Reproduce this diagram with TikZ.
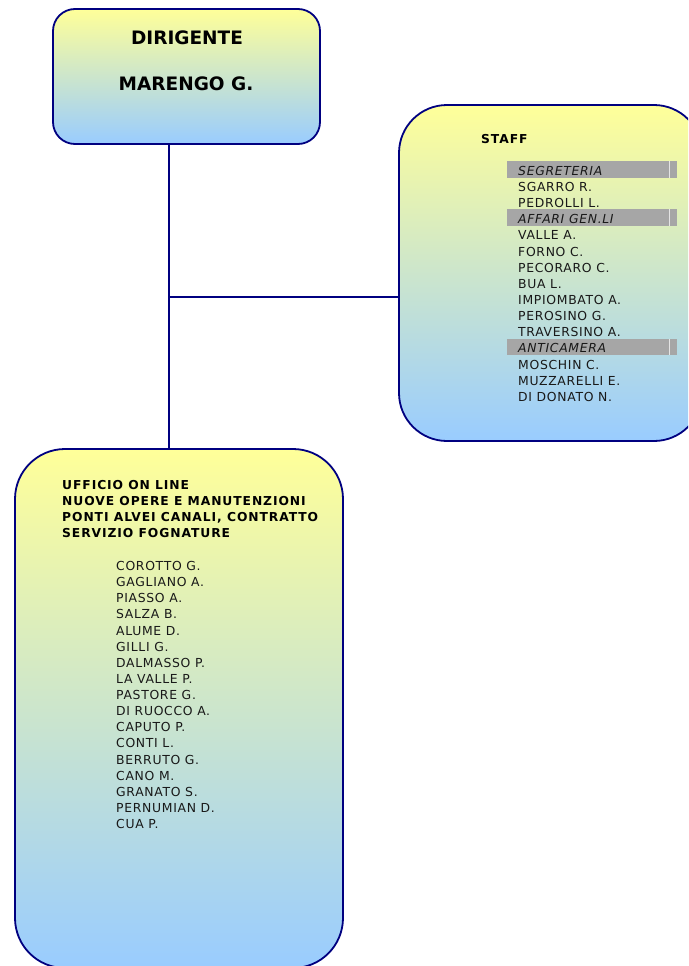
\documentclass[tikz,border=0pt]{standalone}
\usepackage{fontspec}
\setmainfont{DejaVu Sans}
\newfontfamily\spaced[LetterSpace=5.5]{DejaVu Sans}
\newfontfamily\headspaced[LetterSpace=7.5]{DejaVu Sans}
\definecolor{navyline}{HTML}{000080}
\definecolor{boxyellow}{HTML}{FFFF99}
\definecolor{boxblue}{HTML}{99CCFF}
\definecolor{bargray}{HTML}{A6A6A6}
\begin{document}
\begin{tikzpicture}[x=1pt,y=-1pt,
  box/.style={draw=navyline, line width=1.8pt, top color=boxyellow, bottom color=boxblue, inner sep=0pt},
  conn/.style={draw=navyline, line width=1.6pt},
  title/.style={inner sep=0pt, font=\fontsize{18.5}{22}\selectfont\bfseries, text=black},
  head/.style={anchor=base west, inner sep=0pt, font=\headspaced\fontsize{12.3}{15}\selectfont\bfseries, text=black},
  person/.style={anchor=base west, inner sep=0pt, font=\spaced\fontsize{12.4}{15}\selectfont, text=black!90},
  sect/.style={anchor=base west, inner sep=0pt, font=\spaced\fontsize{12.4}{15}\selectfont\itshape, text=black!90},
  bar/.style={fill=bargray, draw=none}]
\useasboundingbox (0,0) rectangle (688,966);
\begin{scope}
\clip (0,0) rectangle (688,966);
% boxes
\node[box, minimum width=267pt, minimum height=135pt, rounded corners=22pt] (dir) at (186.5,76.5) {};
\node[box, minimum width=303pt, minimum height=336pt, rounded corners=48pt] (staff) at (550.5,273) {};
\node[box, minimum width=328pt, minimum height=519pt, rounded corners=50pt] (uff) at (179,708.5) {};
% connectors
\coordinate (j) at (169,297);
\draw[conn] (dir.south -| j) -- (uff.north -| j);
\draw[conn] (j) -- (staff.west |- j);
% dirigente
\node[title] (dirT) at (187,38) {DIRIGENTE};
\node[title] (dirN) at (186,84) {MARENGO G.};
% staff
\node[head] (staffT) at (481,143) {STAFF};
\foreach \i in {0,3,11}{
  \fill[bar] (507,{175.3+16.15*\i-14.3}) rectangle (677,{175.3+16.15*\i+2.4});
  \draw[white!70!bargray, line width=0.8pt] (669,{175.3+16.15*\i-14.3}) -- (669,{175.3+16.15*\i+2.4});
}
\foreach \i/\t/\s in {0/SEGRETERIA/sect,1/SGARRO R./person,2/PEDROLLI L./person,3/AFFARI GEN.LI/sect,4/VALLE A./person,5/FORNO C./person,6/PECORARO C./person,7/BUA L./person,8/IMPIOMBATO A./person,9/PEROSINO G./person,10/TRAVERSINO A./person,11/ANTICAMERA/sect,12/MOSCHIN C./person,13/MUZZARELLI E./person,14/DI DONATO N./person}{
  \node[\s] (s\i) at (518,{175.3+16.15*\i}) {\t};
}
% ufficio header
\begin{scope}
\clip (0,440) rectangle (317,560);
\node[head] (h1) at (62,489.3) {UFFICIO ON LINE};
\node[head] (h2) at (62,505.3) {NUOVE OPERE E MANUTENZIONI};
\node[head] (h3) at (62,521.3) {PONTI ALVEI CANALI, CONTRATTO};
\node[head] (h4) at (62,537.4) {SERVIZIO FOGNATURE};
\end{scope}
\foreach \i/\t in {0/COROTTO G.,1/GAGLIANO A.,2/PIASSO A.,3/SALZA B.,4/ALUME D.,5/GILLI G.,6/DALMASSO P.,7/LA VALLE P.,8/PASTORE G.,9/DI RUOCCO A.,10/CAPUTO P.,11/CONTI L.,12/BERRUTO G.,13/CANO M.,14/GRANATO S.,15/PERNUMIAN D.,16/CUA P.}{
  \node[person] (u\i) at (116,{570.5+16.125*\i}) {\t};
}
\end{scope}
\end{tikzpicture}
\end{document}
